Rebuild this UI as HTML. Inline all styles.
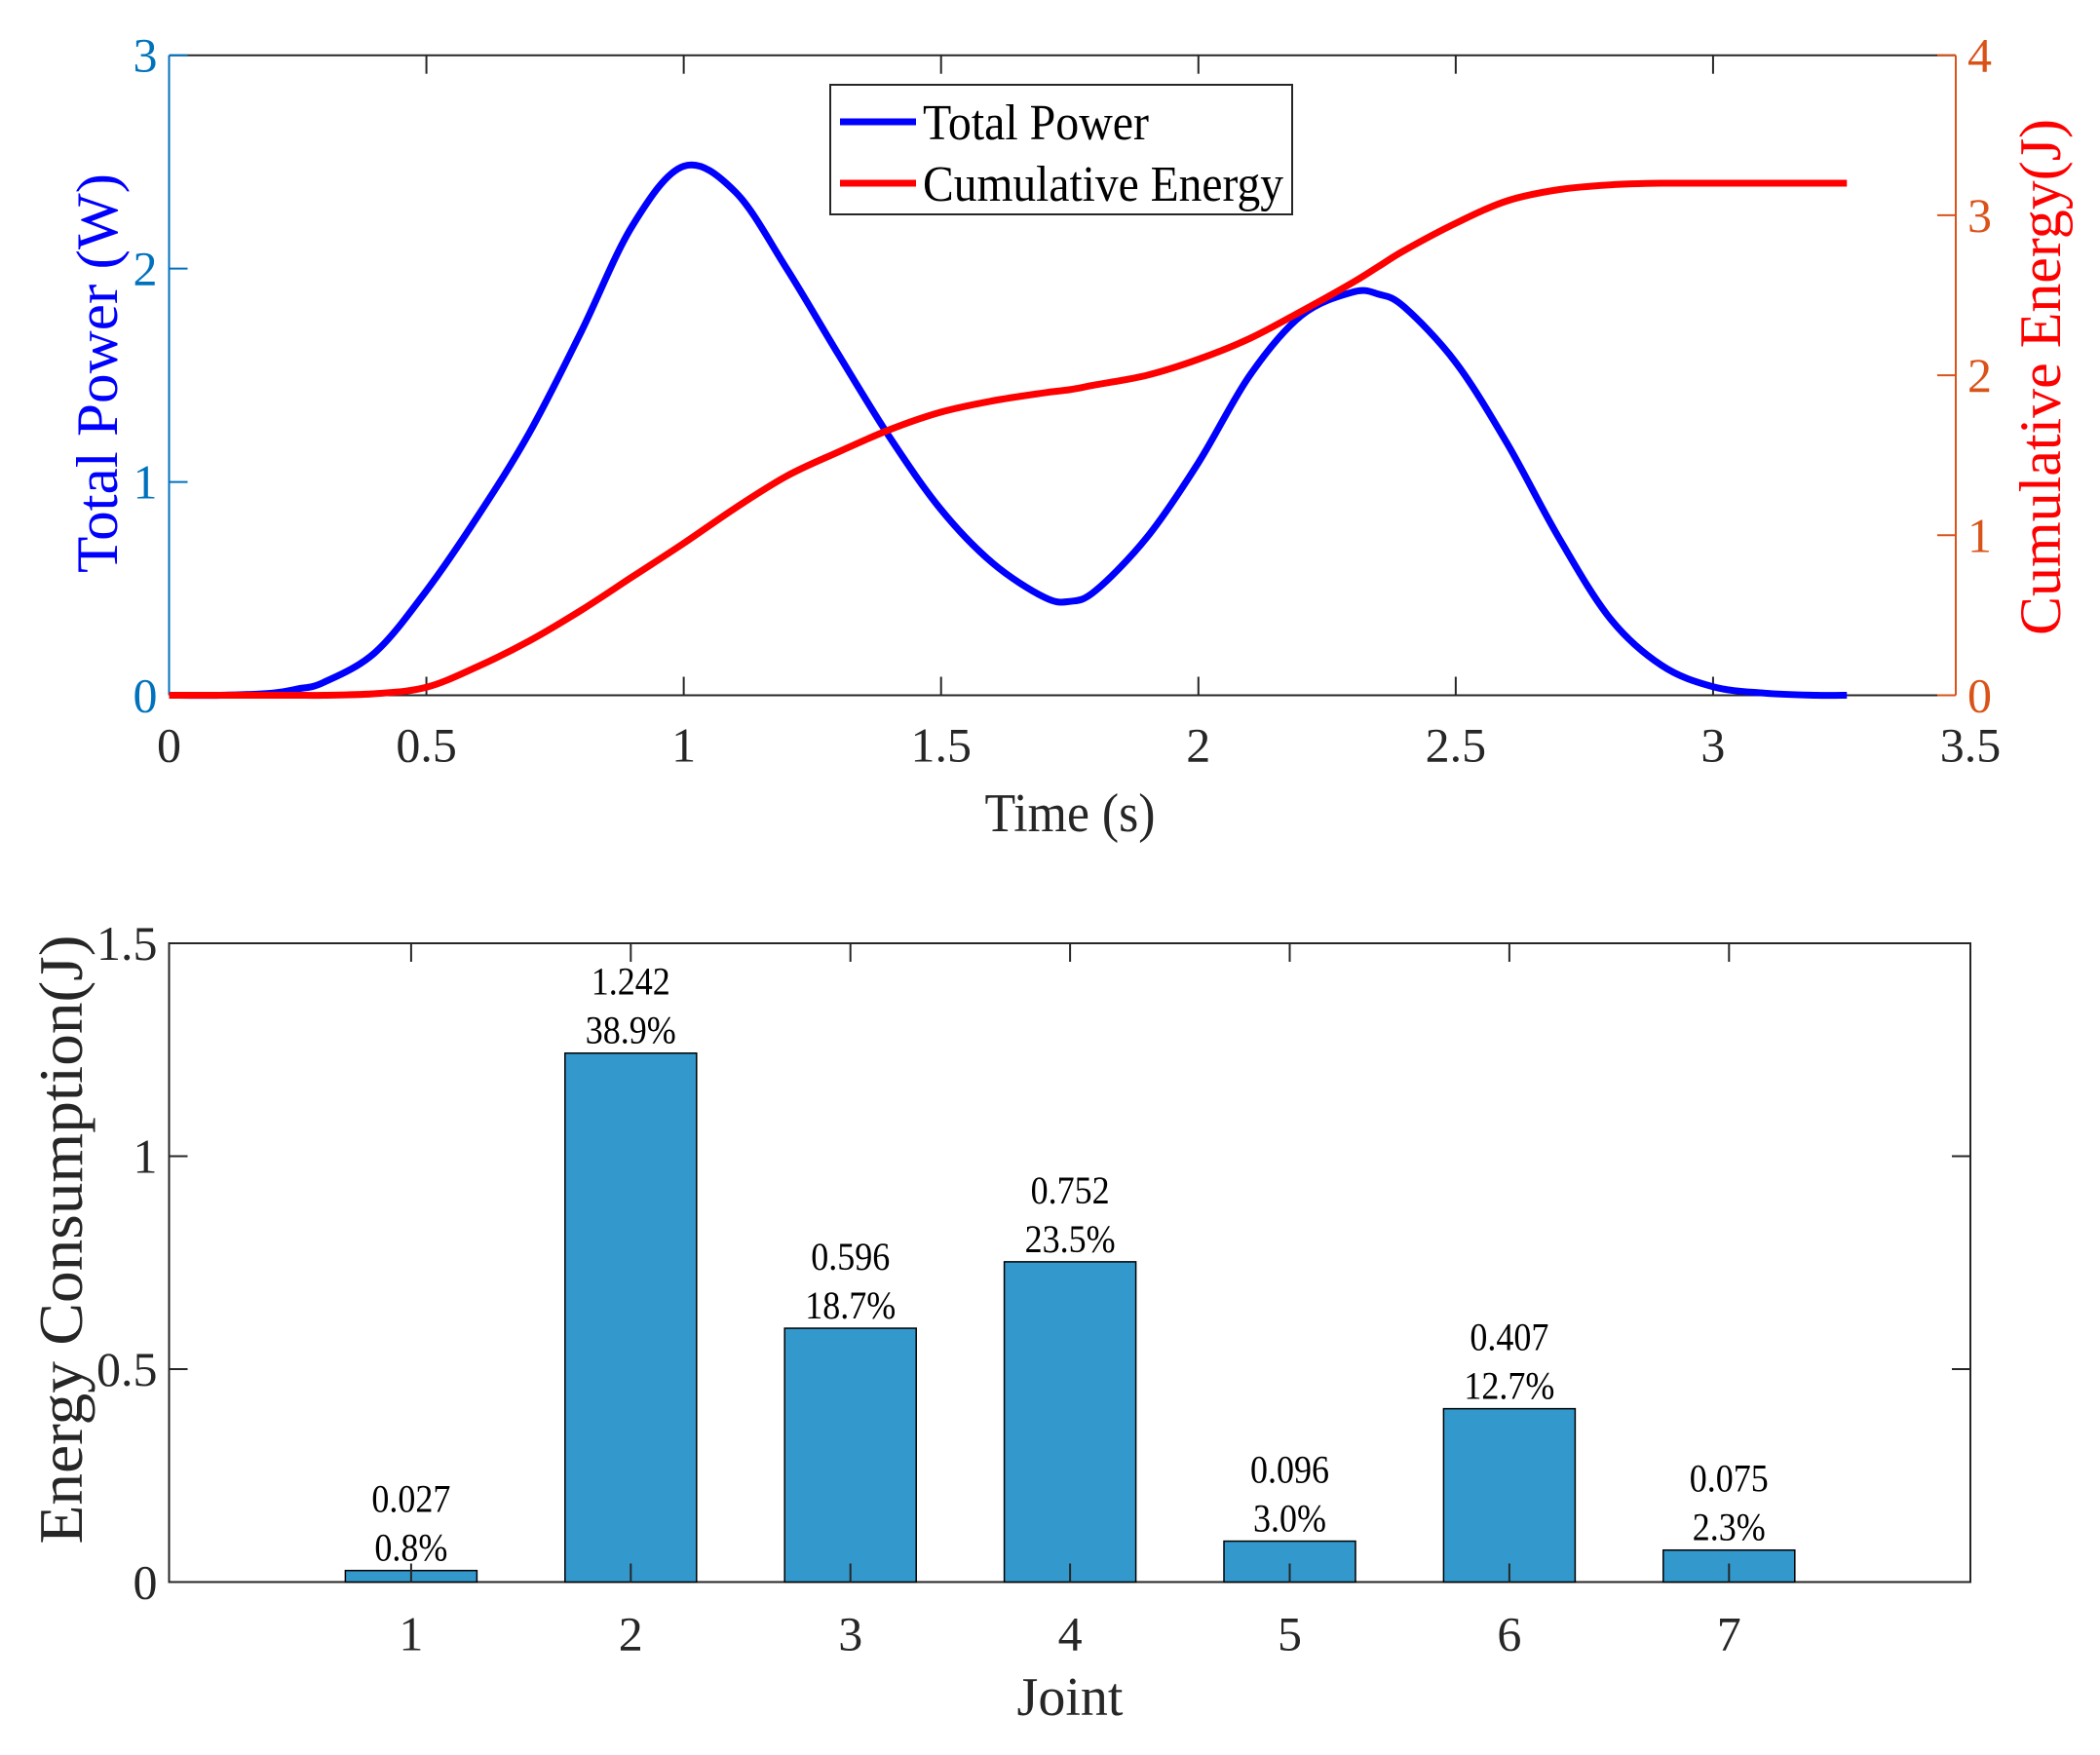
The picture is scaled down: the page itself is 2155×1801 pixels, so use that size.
<!DOCTYPE html>
<html><head><meta charset="utf-8"><style>
body{margin:0;background:#fff}
svg{display:block;font-family:"Liberation Serif",serif}
</style></head><body>
<svg id="c" width="2155" height="1801" viewBox="0 0 2155 1801" xmlns="http://www.w3.org/2000/svg"></svg>
<script>
const times=[0,0.1,0.2,0.25,0.3,0.4,0.5,0.6,0.7,0.8,0.9,1.0,1.1,1.2,1.3,1.4,1.5,1.6,1.7,1.75,1.8,1.9,2.0,2.1,2.2,2.3,2.35,2.4,2.5,2.6,2.7,2.8,2.9,3.0,3.1,3.2,3.26];
const power=[0,0,0.01,0.03,0.06,0.2,0.49,0.84,1.23,1.7,2.2,2.48,2.36,2.0,1.6,1.21,0.87,0.62,0.46,0.44,0.49,0.74,1.09,1.5,1.78,1.89,1.88,1.82,1.56,1.18,0.74,0.36,0.14,0.04,0.01,0,0];
const energy=[0,0,0,0,0,0.01,0.05,0.18,0.34,0.53,0.74,0.95,1.17,1.37,1.52,1.66,1.77,1.84,1.89,1.91,1.94,2.0,2.1,2.23,2.4,2.58,2.68,2.78,2.95,3.09,3.16,3.19,3.2,3.2,3.2,3.2,3.2];
const xTicks=[0,0.5,1,1.5,2,2.5,3,3.5];
const pTicks=[0,1,2,3];
const eTicks=[0,1,2,3,4];
const joints=[1,2,3,4,5,6,7];
const jointEnergy=[0.027,1.242,0.596,0.752,0.096,0.407,0.075];
const jointPct=["0.8%","38.9%","18.7%","23.5%","3.0%","12.7%","2.3%"];
const bTicks=[0,0.5,1,1.5];

const NS="http://www.w3.org/2000/svg",svg=document.getElementById('c');
function el(t,a,p){const e=document.createElementNS(NS,t);for(const k in a)e.setAttribute(k,a[k]);(p||svg).appendChild(e);return e;}
function txt(s,a,p){const e=el('text',a,p);e.textContent=s;return e;}
const L=173.5,R=2007,XR=2022,T=56.7,B=713.5;
const sx=t=>L+t*(XR-L)/3.5, syP=v=>B-v*(B-T)/3, syE=v=>B-v*(B-T)/4;
function smooth(pts){let d=`M${pts[0][0]},${pts[0][1]}`;for(let i=0;i<pts.length-1;i++){const p0=pts[Math.max(0,i-1)],p1=pts[i],p2=pts[i+1],p3=pts[Math.min(pts.length-1,i+2)];d+=` C${p1[0]+(p2[0]-p0[0])/6},${p1[1]+(p2[1]-p0[1])/6} ${p2[0]-(p3[0]-p1[0])/6},${p2[1]-(p3[1]-p1[1])/6} ${p2[0]},${p2[1]}`;}return d;}
let g=el('g',{});

let f=el('path',{d:`M${L},${T}H${R}M${L},${B}H${R}`,stroke:'#262626','stroke-width':2,fill:'none'},g);

let la=el('line',{x1:L,y1:T,x2:L,y2:B,stroke:'#0072bd','stroke-width':2},g);

let ra=el('line',{x1:R,y1:T,x2:R,y2:B,stroke:'#d95319','stroke-width':2},g);

xTicks.forEach(t=>{const x=sx(t);if(t>0&&t<3.5){el('line',{x1:x,y1:B,x2:x,y2:B-19,stroke:'#262626','stroke-width':2},g);el('line',{x1:x,y1:T,x2:x,y2:T+19,stroke:'#262626','stroke-width':2},g);}
 const e=txt(String(t),{x:x,y:B+68,'font-size':50,'text-anchor':'middle',fill:'#262626'},g);
 });
pTicks.forEach(v=>{const y=syP(v);el('line',{x1:L,y1:y,x2:L+19,y2:y,stroke:'#0072bd','stroke-width':2},g);
 const e=txt(String(v),{x:L-12,y:y+17,'font-size':50,'text-anchor':'end',fill:'#0072bd'},g);
 });
eTicks.forEach(v=>{const y=syE(v);el('line',{x1:R,y1:y,x2:R-19,y2:y,stroke:'#d95319','stroke-width':2},g);
 const e=txt(String(v),{x:R+12,y:y+17,'font-size':50,fill:'#d95319'},g);
 });
let pl=el('path',{d:smooth(times.map((t,i)=>[sx(t),syP(power[i])])),stroke:'#0000ff','stroke-width':7,fill:'none','stroke-linejoin':'round'},g);

let eln=el('path',{d:smooth(times.map((t,i)=>[sx(t),syE(energy[i])])),stroke:'#ff0000','stroke-width':7,fill:'none','stroke-linejoin':'round'},g);

let xt=txt('Time (s)',{x:1098,y:853,'font-size':56,'text-anchor':'middle',fill:'#262626',textLength:175,lengthAdjust:'spacingAndGlyphs'},g);

let yl=txt('Total Power (W)',{x:0,y:0,'font-size':60,'text-anchor':'middle',fill:'#0000ff',textLength:410,lengthAdjust:'spacingAndGlyphs',transform:'translate(120,383) rotate(-90)'},g);

let yr=txt('Cumulative Energy(J)',{x:0,y:0,'font-size':60,'text-anchor':'middle',fill:'#ff0000',textLength:530,lengthAdjust:'spacingAndGlyphs',transform:'translate(2114,387) rotate(-90)'},g);

let lg=el('g',{},g);
el('rect',{x:852,y:87,width:474,height:133,fill:'#fff',stroke:'#262626','stroke-width':2},lg);
let e1=el('line',{x1:862,y1:125,x2:940,y2:125,stroke:'#0000ff','stroke-width':7},lg);
let e2=el('line',{x1:862,y1:188,x2:940,y2:188,stroke:'#ff0000','stroke-width':7},lg);
txt('Total Power',{x:947,y:143,'font-size':52,fill:'#000',textLength:232,lengthAdjust:'spacingAndGlyphs'},lg);
txt('Cumulative Energy',{x:947,y:206,'font-size':52,fill:'#000',textLength:370,lengthAdjust:'spacingAndGlyphs'},lg);

const BL=173.5,BR=2022,BT=968,BB=1623.5;
const bx=j=>421.9+(j-1)*225.4, by=v=>BB-v*(BB-BT)/1.5, bw=135;
let g2=el('g',{});
let fr=el('rect',{x:BL,y:BT,width:BR-BL,height:BB-BT,fill:'none',stroke:'#262626','stroke-width':2},g2);

joints.forEach((j,i)=>{const x=bx(j),v=jointEnergy[i];
 const r=el('rect',{x:x-bw/2,y:by(v),width:bw,height:BB-by(v),fill:'#3399cc',stroke:'#000','stroke-width':1.5},g2);
 
 el('line',{x1:x,y1:BB,x2:x,y2:BB-19,stroke:'#262626','stroke-width':2},g2);
 el('line',{x1:x,y1:BT,x2:x,y2:BT+19,stroke:'#262626','stroke-width':2},g2);
 const t=txt(String(j),{x:x,y:BB+70,'font-size':50,'text-anchor':'middle',fill:'#262626'},g2);
 
 const a=txt(v.toFixed(3),{x:x,y:by(v)-60,'font-size':40,'text-anchor':'middle',fill:'#000',transform:`translate(${x*0.1},0) scale(0.9,1)`},g2);
 
 const b=txt(jointPct[i],{x:x,y:by(v)-10,'font-size':40,'text-anchor':'middle',fill:'#000',transform:`translate(${x*0.1},0) scale(0.9,1)`},g2);
 });
bTicks.forEach(v=>{const y=by(v);el('line',{x1:BL,y1:y,x2:BL+19,y2:y,stroke:'#262626','stroke-width':2},g2);el('line',{x1:BR,y1:y,x2:BR-19,y2:y,stroke:'#262626','stroke-width':2},g2);
 const t=txt(String(v),{x:BL-12,y:y+17,'font-size':50,'text-anchor':'end',fill:'#262626'},g2);
 });
let bxl=txt('Joint',{x:1098,y:1760,'font-size':56,'text-anchor':'middle',fill:'#262626'},g2);

let byl=txt('Energy Consumption(J)',{x:0,y:0,'font-size':64,'text-anchor':'middle',fill:'#262626',textLength:625,lengthAdjust:'spacingAndGlyphs',transform:'translate(84,1272) rotate(-90)'},g2);

</script>
</body></html>
